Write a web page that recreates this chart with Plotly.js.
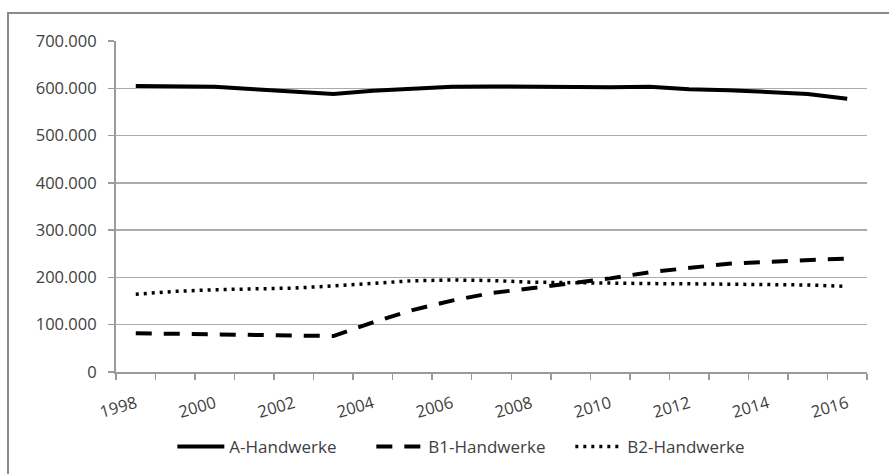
<!DOCTYPE html>
<html>
<head>
<meta charset="utf-8">
<script src="https://cdn.plot.ly/plotly-3.0.1.min.js"></script>
<style>
html,body{margin:0;padding:0;background:#fff;}
#chart{width:889px;height:474px;}
</style>
</head>
<body>
<div id="chart"></div>
<script>
var years = [1998,1999,2000,2001,2002,2003,2004,2005,2006,2007,2008,2009,2010,2011,2012,2013,2014,2015,2016];
var aHandwerke = [605000,605000,603000,598000,592000,588000,595000,600000,603000,604000,603000,603000,602000,603000,598000,596000,592000,588000,578000];
var b1Handwerke = [82000,81000,79500,78000,77000,76000,105000,131000,151000,167000,177000,187000,198000,211000,221000,229000,233000,236500,240000];
var b2Handwerke = [164500,170500,174000,176000,177500,182000,188000,193000,194500,193500,190000,188500,188000,187000,186500,186000,185000,184000,181000];
var yearLabels = [1998,2000,2002,2004,2006,2008,2010,2012,2014,2016];
var seriesNames = ['A-Handwerke','B1-Handwerke','B2-Handwerke'];

var boundaries = years.map(function(y){return y-0.5;}).concat([years[years.length-1]+0.5]);

var textColor = '#404040';
var gridColor = '#ababab';
var font = {family:'"Open Sans", sans-serif', size:16.5, color:textColor};
var legendFont = {family:'"Open Sans", sans-serif', size:17, color:textColor};

var traces = [
  {x:years, y:aHandwerke, name:seriesNames[0], type:'scatter', mode:'lines',
   line:{color:'#000', width:4}},
  {x:years, y:b1Handwerke, name:seriesNames[1], type:'scatter', mode:'lines',
   line:{color:'#000', width:4, dash:'16px,12px'}},
  {x:years, y:b2Handwerke, name:seriesNames[2], type:'scatter', mode:'lines',
   line:{color:'#000', width:3.5, dash:'3px,5px'}}
];

var layout = {
  width:889, height:474,
  margin:{l:116, r:22, t:41, b:102},
  paper_bgcolor:'#fff', plot_bgcolor:'#fff',
  separators:',.',
  font:font,
  showlegend:true,
  legend:{orientation:'h', x:0.075, xanchor:'left', yref:'container', y:0.057, yanchor:'middle',
          font:legendFont, itemwidth:47, entrywidth:137, entrywidthmode:'pixels',
          bgcolor:'rgba(0,0,0,0)'},
  xaxis:{
    range:[years[0]-0.5, years[years.length-1]+0.5],
    tickmode:'array', tickvals:yearLabels, ticktext:yearLabels.map(String),
    ticks:'', tickangle:-16, tickfont:font,
    showgrid:false, zeroline:false,
    showline:true, linecolor:'#9a9a9a', linewidth:2,
    ticklabelstandoff:14,
    minor:{tickmode:'array', tickvals:boundaries, ticks:'outside', ticklen:6,
           tickcolor:'#9a9a9a', tickwidth:1.5, showgrid:false}
  },
  yaxis:{
    range:[0,700000], tickmode:'linear', tick0:0, dtick:100000,
    tickformat:',', tickfont:font,
    ticks:'outside', ticklen:6, tickcolor:'#9a9a9a', tickwidth:1.5,
    showgrid:true, gridcolor:gridColor, gridwidth:1.5,
    zeroline:false, showline:true, linecolor:'#9a9a9a', linewidth:2,
    ticklabelstandoff:8
  },
  shapes:[
    {type:'rect', xref:'paper', yref:'paper',
     x0:-0.1438, x1:1.2, y0:-0.6, y1:1.0846,
     line:{color:'#8a8a8a', width:2}, fillcolor:'rgba(0,0,0,0)', layer:'below'}
  ]
};

Plotly.newPlot('chart', traces, layout, {displayModeBar:false, staticPlot:true});
</script>
</body>
</html>
